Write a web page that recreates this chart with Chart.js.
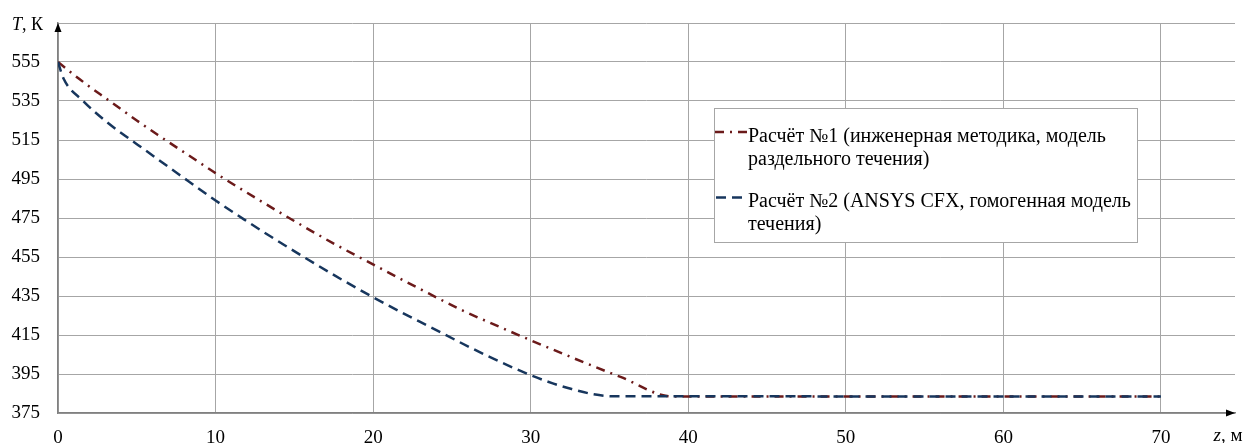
<!DOCTYPE html>
<html>
<head>
<meta charset="utf-8">
<script src="https://cdn.jsdelivr.net/npm/chart.js@4.4.1/dist/chart.umd.min.js"></script>
<style>
  html, body { margin: 0; padding: 0; background: #fff; }
  #wrap { width: 1243px; height: 443px; }
</style>
</head>
<body>
<div id="wrap"><canvas id="chart"></canvas></div>
<script>
// Расчёт №1 (инженерная методика)
const zCalc1 = [0, 1.4, 2.7, 3.9, 5.0, 6.3, 8.6, 10, 12.6, 15.2, 17.7, 20.4, 23, 25.7, 28.5, 30, 32.7, 35.7, 39, 70];
const tCalc1 = [555, 546, 538.3, 531.4, 525, 517.8, 505.5, 498, 485, 472.5, 461, 449.5, 438.5, 427.5, 417.5, 412.3, 403.2, 393.5, 383.5, 383.5];

// Расчёт №2 (ANSYS CFX)
const zCalc2 = [0, 0.35, 1.6, 3.1, 4.6, 5.4, 7.7, 10, 11.8, 13.5, 15.7, 17.5, 19.9, 21.7, 23.4, 27.2, 30, 31.4, 32.6, 34, 35.2, 70];
const tCalc2 = [555, 546.5, 535, 524.2, 515.2, 510.6, 497.2, 484, 474.3, 465.5, 454.5, 445.8, 434.8, 427, 420, 404.5, 394.4, 390.2, 387.3, 384.6, 383.6, 383.5];

const labelCalc1 = ['Расчёт №1 (инженерная методика, модель', 'раздельного течения)'];
const labelCalc2 = ['Расчёт №2 (ANSYS CFX, гомогенная модель', 'течения)'];

const xTicks = [0, 10, 20, 30, 40, 50, 60, 70];
const yTicks = [375, 395, 415, 435, 455, 475, 495, 515, 535, 555, 575];

const FONT = '"Liberation Serif", "Times New Roman", serif';

function toPoints(xs, ys) {
    return xs.map((x, i) => ({ x: x, y: ys[i] }));
}

// подписи осей, стрелки и легенда
const extras = {
    id: 'extras',
    afterDraw(chart) {
        const ctx = chart.ctx;
        const area = chart.chartArea;
        ctx.save();

        // стрелки осей
        ctx.fillStyle = '#000';
        ctx.beginPath();
        ctx.moveTo(area.right, area.bottom);
        ctx.lineTo(area.right - 9, area.bottom - 3.5);
        ctx.lineTo(area.right - 9, area.bottom + 3.5);
        ctx.closePath();
        ctx.fill();
        ctx.beginPath();
        ctx.moveTo(area.left, area.top);
        ctx.lineTo(area.left - 3.5, area.top + 9);
        ctx.lineTo(area.left + 3.5, area.top + 9);
        ctx.closePath();
        ctx.fill();

        // T, К
        ctx.textBaseline = 'alphabetic';
        ctx.textAlign = 'left';
        ctx.font = '18px ' + FONT;
        const rest = ', К';
        const restW = ctx.measureText(rest).width;
        ctx.font = 'italic 18px ' + FONT;
        const tW = ctx.measureText('T').width;
        const right = 43;
        ctx.fillText('T', right - restW - tW, 29.5);
        ctx.font = '18px ' + FONT;
        ctx.fillText(rest, right - restW, 29.5);

        // z, м
        ctx.font = 'italic 19px ' + FONT;
        const zW = ctx.measureText('z').width;
        ctx.font = '19px ' + FONT;
        const mW = ctx.measureText(', м').width;
        const zx = 1228 - (zW + mW) / 2;
        ctx.font = 'italic 19px ' + FONT;
        ctx.fillText('z', zx, 441);
        ctx.font = '19px ' + FONT;
        ctx.fillText(', м', zx + zW, 441);

        // легенда
        const bx = 714, by = 108, bw = 423, bh = 134;
        ctx.fillStyle = '#fff';
        ctx.fillRect(bx, by, bw, bh);
        ctx.strokeStyle = '#a6a6a6';
        ctx.lineWidth = 1;
        ctx.strokeRect(bx + 0.5, by + 0.5, bw, bh);

        const entries = [
            { ds: chart.data.datasets[0], y: 141.5, sx0: 715, sx1: 747, sy: 132 },
            { ds: chart.data.datasets[1], y: 206.7, sx0: 716, sx1: 743, sy: 197.5 }
        ];
        entries.forEach(e => {
            ctx.strokeStyle = e.ds.borderColor;
            ctx.lineWidth = e.ds.borderWidth;
            ctx.setLineDash(e.ds.borderDash);
            ctx.beginPath();
            ctx.moveTo(e.sx0, e.sy);
            ctx.lineTo(e.sx1, e.sy);
            ctx.stroke();
            ctx.setLineDash([]);
            ctx.fillStyle = '#000';
            ctx.font = '20px ' + FONT;
            e.ds.label.forEach((line, i) => {
                ctx.fillText(line, 748, e.y + i * 23);
            });
        });
        ctx.restore();
    }
};

new Chart(document.getElementById('chart'), {
    type: 'line',
    data: {
        datasets: [
            {
                label: labelCalc1,
                data: toPoints(zCalc1, tCalc1),
                borderColor: '#6b1a1a',
                borderWidth: 2.5,
                borderDash: [9, 6, 2, 6],
                pointRadius: 0,
                cubicInterpolationMode: 'monotone',
                fill: false,
                order: 1
            },
            {
                label: labelCalc2,
                data: toPoints(zCalc2, tCalc2),
                borderColor: '#17365d',
                borderWidth: 2.5,
                borderDash: [10, 6],
                pointRadius: 0,
                cubicInterpolationMode: 'monotone',
                fill: false,
                order: 0
            }
        ]
    },
    options: {
        responsive: true,
        maintainAspectRatio: false,
        animation: false,
        devicePixelRatio: 1,
        layout: { padding: { left: 0, right: 8, top: 23, bottom: 0 } },
        plugins: {
            legend: { display: false },
            tooltip: { enabled: false }
        },
        scales: {
            x: {
                type: 'linear',
                min: 0,
                max: 74.7,
                afterBuildTicks: scale => {
                    scale.ticks = xTicks.map(v => ({ value: v }));
                },
                afterFit: scale => {
                    scale.height = 30;
                    scale.paddingLeft = 0;
                    scale.paddingRight = 0;
                },
                grid: { color: '#a6a6a6', lineWidth: 1, drawTicks: false },
                border: { color: '#808080', width: 1.5 },
                ticks: {
                    padding: 14,
                    maxRotation: 0,
                    autoSkip: false,
                    color: '#000',
                    font: { family: FONT, size: 19 }
                }
            },
            y: {
                min: 375,
                max: 575,
                afterBuildTicks: scale => {
                    scale.ticks = yTicks.map(v => ({ value: v }));
                },
                afterFit: scale => {
                    scale.width = 58;
                    scale.paddingTop = 0;
                    scale.paddingBottom = 0;
                },
                grid: { color: '#a6a6a6', lineWidth: 1, drawTicks: false },
                border: { color: '#808080', width: 1.5 },
                ticks: {
                    padding: 18,
                    autoSkip: false,
                    color: '#000',
                    font: { family: FONT, size: 19 },
                    callback: v => (v === 575 ? '' : String(v))
                }
            }
        }
    },
    plugins: [extras]
});
</script>
</body>
</html>
